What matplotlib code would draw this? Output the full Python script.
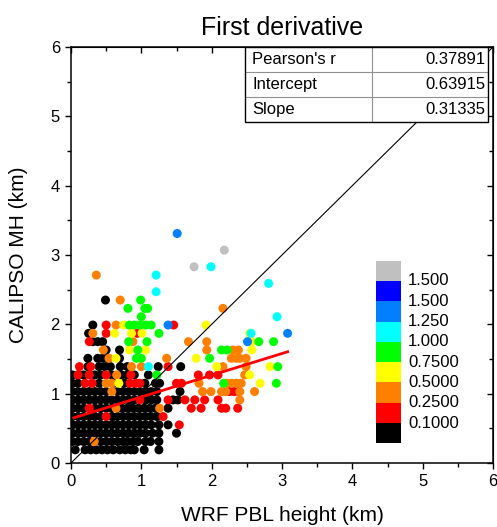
import matplotlib
matplotlib.use('Agg')
import matplotlib.pyplot as plt
from matplotlib.patches import Rectangle
from matplotlib.ticker import MultipleLocator

plt.rcParams['font.family'] = ['Liberation Sans', 'DejaVu Sans']

# Black points (lowest class), one list of WRF heights per CALIPSO height row
black_row_y = [0.19, 0.31, 0.43, 0.55, 0.67, 0.79, 0.91, 1.03, 1.15, 1.27, 1.39, 1.51, 1.63, 1.75, 1.87, 1.99, 2.35]
black_row_x = [
    [0.06, 0.20, 0.28, 0.36, 0.44, 0.52, 0.60, 0.69, 0.77, 0.85, 0.90, 1.04, 1.25],
    [0.02, 0.10, 0.18, 0.26, 0.42, 0.50, 0.58, 0.66, 0.74, 0.80, 0.88, 0.95, 1.06, 1.13, 1.25],
    [0.02, 0.10, 0.18, 0.26, 0.34, 0.42, 0.50, 0.58, 0.66, 0.74, 0.82, 0.90, 0.98, 1.06, 1.16, 1.25, 1.50],
    [0.02, 0.10, 0.18, 0.26, 0.34, 0.42, 0.50, 0.58, 0.66, 0.74, 0.82, 0.90, 0.98, 1.06, 1.14, 1.25, 1.38],
    [0.02, 0.10, 0.18, 0.26, 0.34, 0.42, 0.58, 0.66, 0.74, 0.82, 0.90, 0.98, 1.06, 1.14, 1.22],
    [0.02, 0.10, 0.18, 0.34, 0.42, 0.50, 0.58, 0.72, 0.80, 0.88, 0.96, 1.04, 1.12, 1.20, 1.38],
    [0.02, 0.10, 0.18, 0.26, 0.34, 0.42, 0.50, 0.58, 0.66, 0.74, 0.82, 0.90, 1.06, 1.14, 1.22, 1.45, 1.52],
    [0.02, 0.10, 0.18, 0.26, 0.34, 0.42, 0.50, 0.66, 0.74, 0.82, 0.90, 0.98, 1.06, 1.14, 1.22, 1.55],
    [0.02, 0.10, 0.40, 0.60, 0.76, 1.05, 1.20, 1.26],
    [0.02, 0.10, 0.18, 0.34, 0.42, 0.58, 0.72, 0.80, 0.90, 1.10],
    [0.24, 0.40, 0.48, 0.56, 0.70, 0.80, 1.24, 1.56],
    [0.24, 0.38, 0.45, 0.52, 0.69],
    [0.50, 0.69],
    [0.31, 0.38, 0.45],
    [0.25],
    [0.31],
    [0.49],
]

red_x = [0.12, 0.28, 0.10, 0.26, 0.50, 0.85, 0.20, 0.30, 0.84, 0.92, 0.98, 1.50, 1.57,
         0.26, 0.50, 0.98, 1.38, 1.31, 1.54, 1.38, 1.62, 1.76, 1.90, 2.09, 1.71, 1.85,
         2.14, 2.20, 2.37, 0.50, 0.50, 0.94, 1.46, 1.81, 1.97, 2.09, 2.25, 2.32, 2.39, 0.26]
red_y = [1.39, 1.39, 1.27, 1.27, 1.27, 1.27, 1.15, 1.15, 1.15, 1.15, 1.15, 1.15, 1.15,
         0.79, 0.67, 0.91, 1.39, 0.67, 0.55, 0.91, 0.91, 0.91, 0.91, 0.91, 0.79, 0.79,
         0.79, 0.79, 0.79, 1.99, 1.87, 1.87, 1.99, 1.27, 1.27, 1.27, 1.03, 1.03, 1.03, 1.75]

orange_x = [0.33, 0.64, 1.26, 0.58, 0.50, 0.58, 0.65, 0.86, 1.00, 0.54, 0.46, 0.88, 0.31,
            0.64, 0.70, 0.36, 1.87, 1.99, 2.14, 2.20, 2.40, 2.61, 1.82, 2.22, 2.28, 2.35,
            2.42, 2.40, 2.47, 2.16, 2.49, 1.36, 2.28, 2.35, 2.40, 2.49, 1.93, 2.30, 2.38,
            1.67, 1.93, 2.16]
orange_y = [0.31, 0.79, 0.79, 1.03, 1.15, 1.15, 1.27, 1.39, 1.39, 1.51, 1.63, 1.75, 1.87,
            1.99, 2.35, 2.71, 1.03, 1.03, 1.03, 1.03, 1.03, 1.03, 1.15, 1.15, 1.15, 1.15,
            1.15, 0.91, 1.27, 1.39, 1.39, 1.51, 1.51, 1.51, 1.51, 1.51, 1.63, 1.63, 1.63,
            1.75, 1.75, 2.23]

yellow_x = [0.68, 0.64, 0.83, 1.06, 0.62, 0.86, 1.01, 0.75, 1.78, 1.92, 2.07, 2.54, 2.69,
            2.83, 2.57, 2.57, 2.54]
yellow_y = [1.15, 1.51, 1.63, 1.63, 1.87, 1.87, 1.87, 1.99, 1.51, 1.99, 1.39, 1.27, 1.15,
            1.39, 1.63, 1.75, 1.87]

green_x = [0.83, 0.90, 0.98, 1.06, 1.14, 1.25, 0.82, 1.08, 0.95, 0.93, 1.00, 1.22, 0.81,
           1.05, 1.09, 1.00, 0.99, 2.17, 2.92, 2.94, 1.97, 2.14, 2.22, 2.67, 2.88]
green_y = [1.99, 1.99, 1.99, 1.99, 1.99, 1.87, 1.75, 1.75, 1.63, 1.51, 1.51, 1.27, 2.23,
           2.23, 2.23, 2.11, 2.35, 1.15, 1.15, 1.39, 1.51, 1.63, 1.63, 1.75, 1.75]

cyan_x = [1.10, 1.21, 1.21, 1.99, 2.81, 2.93, 2.56]
cyan_y = [1.39, 2.47, 2.71, 2.83, 2.59, 2.11, 1.87]

azure_x = [1.51, 1.38, 2.51, 3.08]
azure_y = [3.31, 1.99, 1.75, 1.87]

blue_x = []
blue_y = []

gray_x = [1.75, 2.18]
gray_y = [2.83, 3.07]

# linear fit and statistics
fit_intercept = 0.63915
fit_slope = 0.31335
fit_r = 0.37891
fit_x_range = [0.04, 3.08]

# legend classes, top to bottom
class_colors = ['#C0C0C0', '#0000FF', '#0080FF', '#00FFFF', '#00FF00',
                '#FFFF00', '#FF8000', '#FF0000', '#000000']
class_labels = ['1.500', '1.500', '1.250', '1.000', '0.7500',
                '0.5000', '0.2500', '0.1000']

fig = plt.figure(figsize=(4.97, 5.27), dpi=100)
ax = fig.add_axes([71 / 497, 64 / 527, 422 / 497, 416 / 527])

bx, by = [], []
for yv, xs in zip(black_row_y, black_row_x):
    bx += xs
    by += [yv] * len(xs)

groups = [
    (bx, by, '#000000'),
    (red_x, red_y, '#FF0000'),
    (orange_x, orange_y, '#FF8000'),
    (yellow_x, yellow_y, '#FFFF00'),
    (green_x, green_y, '#00FF00'),
    (cyan_x, cyan_y, '#00FFFF'),
    (azure_x, azure_y, '#0080FF'),
    (blue_x, blue_y, '#0000FF'),
    (gray_x, gray_y, '#C0C0C0'),
]
for gx, gy, c in groups:
    ax.scatter(gx, gy, s=42, c=c, edgecolors='none', zorder=2)

# 1:1 line and fit line
ax.plot([0, 6], [0, 6], color='black', lw=0.8, zorder=3)
fy = [fit_intercept + fit_slope * v for v in fit_x_range]
ax.plot(fit_x_range, fy, color='#FF0000', lw=2.0, zorder=3)

ax.set_xlim(0, 6)
ax.set_ylim(0, 6)
ax.xaxis.set_major_locator(MultipleLocator(1))
ax.yaxis.set_major_locator(MultipleLocator(1))
ax.xaxis.set_minor_locator(MultipleLocator(0.5))
ax.yaxis.set_minor_locator(MultipleLocator(0.5))
ax.tick_params(which='both', direction='out', labelsize=12, width=1.0, pad=4)
ax.tick_params(which='major', length=4)
ax.tick_params(which='minor', length=3)
for sp in ax.spines.values():
    sp.set_linewidth(1.1)

top = ax.secondary_xaxis('top')
top.xaxis.set_major_locator(MultipleLocator(1))
top.xaxis.set_minor_locator(MultipleLocator(0.5))
top.tick_params(which='both', direction='in', labeltop=False, width=1.0)
top.tick_params(which='major', length=4)
top.tick_params(which='minor', length=3)
right = ax.secondary_yaxis('right')
right.yaxis.set_major_locator(MultipleLocator(1))
right.yaxis.set_minor_locator(MultipleLocator(0.5))
right.tick_params(which='both', direction='in', labelright=False, width=1.0)
right.tick_params(which='major', length=4)
right.tick_params(which='minor', length=3)

fig.text(282 / 497, 1 - 35 / 527, 'First derivative', ha='center', va='baseline', fontsize=18)
fig.text(282 / 497, 1 - 521 / 527, 'WRF PBL height (km)', ha='center', va='baseline', fontsize=15)
fig.text(19 / 497, 1 - 255 / 527, 'CALIPSO MH (km)', ha='center', va='center',
         rotation=90, fontsize=15)

# statistics table in the upper right corner
tx0, tx1, tx2 = (245 - 71) / 422, (372 - 71) / 422, (488 - 71) / 422
row_edges = [1.0, (463 - 72) / 416, (463 - 97) / 416, (463 - 122) / 416]
ax.add_patch(Rectangle((tx0, row_edges[-1]), tx2 - tx0, 1 - row_edges[-1],
                       transform=ax.transAxes, facecolor='white', edgecolor='none', zorder=5))
for yy in row_edges[1:-1]:
    ax.plot([tx0, tx2], [yy, yy], transform=ax.transAxes, color='#909090', lw=0.8, zorder=6)
ax.plot([tx1, tx1], [row_edges[-1], 1], transform=ax.transAxes, color='#909090', lw=0.8, zorder=6)
ax.add_patch(Rectangle((tx0, row_edges[-1]), tx2 - tx0, 1 - row_edges[-1],
                       transform=ax.transAxes, facecolor='none', edgecolor='black', lw=1.0, zorder=7))
table_names = ["Pearson's r", 'Intercept', 'Slope']
table_vals = [fit_r, fit_intercept, fit_slope]
for i, (nm, val) in enumerate(zip(table_names, table_vals)):
    yc = (row_edges[i] + row_edges[i + 1]) / 2
    ax.text((252 - 71) / 422, yc, nm, transform=ax.transAxes, ha='left', va='center',
            fontsize=12, zorder=8)
    ax.text((485 - 71) / 422, yc, f'{val:.5f}', transform=ax.transAxes, ha='right',
            va='center', fontsize=12, zorder=8)

# colour class legend
lx0, lx1 = (376 - 71) / 422, (401 - 71) / 422
ly_top, ly_bot = (463 - 260.7) / 416, (463 - 443.3) / 416
bh = (ly_top - ly_bot) / len(class_colors)
for i, c in enumerate(class_colors):
    ax.add_patch(Rectangle((lx0, ly_top - (i + 1) * bh), lx1 - lx0, bh,
                           transform=ax.transAxes, facecolor=c, edgecolor='none', zorder=4))
for i, lab in enumerate(class_labels):
    ax.text((408 - 71) / 422, ly_top - (i + 1) * bh, lab, transform=ax.transAxes,
            ha='left', va='center', fontsize=12, zorder=4)

fig.savefig('out.png', dpi=100)
